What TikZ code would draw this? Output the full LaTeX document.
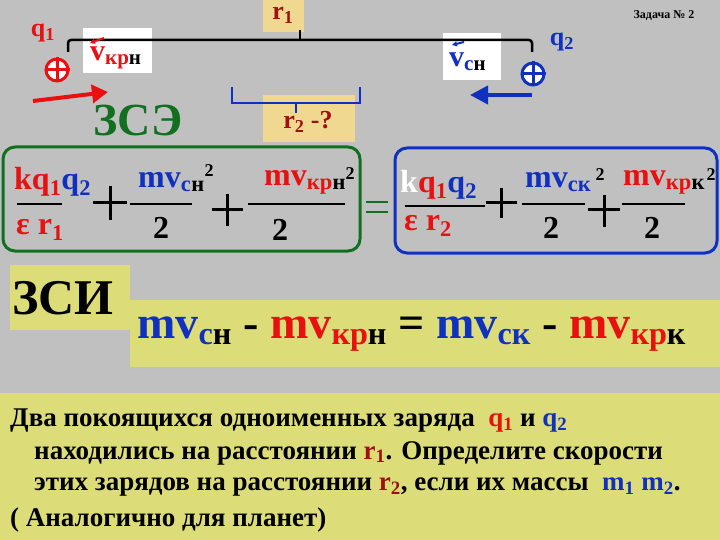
\documentclass[tikz,border=0pt]{standalone}
\usepackage{fontspec}
\usetikzlibrary{arrows.meta}
\setmainfont{Liberation Serif}
\definecolor{bg}{HTML}{C0C0C0}
\definecolor{yel}{HTML}{DCDC78}
\definecolor{ry}{HTML}{F0D890}
\definecolor{rd}{HTML}{E81010}
\definecolor{dr}{HTML}{A01010}
\definecolor{bl}{HTML}{1030C0}
\definecolor{gr}{HTML}{107020}
\newcommand{\fsz}[1]{\bfseries\fontsize{#1}{#1}\selectfont}
\begin{document}
\begin{tikzpicture}[x=1pt,y=-1pt,
  t/.style={inner sep=0pt},
  fr/.style={line width=2pt}]
\useasboundingbox (0,0) rectangle (720,540);
\fill[bg] (0,0) rectangle (720,540);
% yellow areas
\fill[ry] (263,0) rectangle (304,32);
\fill[ry] (263,95) rectangle (355,142);
\fill[yel] (10,265) rectangle (130,330);
\fill[yel] (130,300) rectangle (720,367);
\fill[yel] (0,393) rectangle (720,540);
\fill[white] (83,28) rectangle (152,73);
\fill[white] (443,33) rectangle (501,80);
% r1 line
\coordinate (a1) at (68,52); \coordinate (a2) at (532,52);
\draw[line width=2.5pt,rounded corners=3pt] (a1) |- (300,40) -| (a2);
\draw[line width=2pt] (300,30) -- (300,40);
\node[t,text=dr,font=\fsz{26}] (r1) at (283,15) {r\textsubscript{1}};
% r2 bracket
\draw[bl,line width=2.5pt] (232,87) |- (360,103) -- (360,87);
\draw[bl,line width=2pt] (296,103) -- (296,113);
\node[t,text=dr,font=\fsz{26}] (r2) at (308,122) {r\textsubscript{2} -?};
% charges
\node[t,text=rd,font=\fsz{26}] (q1) at (43,33) {q\textsubscript{1}};
\node[t,text=bl,font=\fsz{26}] (q2) at (562,42) {q\textsubscript{2}};
\node[circle,draw=rd,line width=3pt,fill=white,minimum size=22pt,inner sep=0pt] (c1) at (57,70) {};
\draw[rd,line width=3pt] (c1.north)--(c1.south) (c1.west)--(c1.east);
\node[circle,draw=bl,line width=3pt,fill=white,minimum size=22pt,inner sep=0pt] (c2) at (533,74) {};
\draw[bl,line width=3pt] (c2.north)--(c2.south) (c2.west)--(c2.east);
\coordinate (ra) at (33,101); \coordinate (rb) at (108,92);
\draw[rd,line width=4pt,-{Triangle[length=16pt,width=18pt]}] (ra) -- (rb);
\coordinate (ba) at (532,95); \coordinate (bb) at (470,95);
\draw[bl,line width=4pt,-{Triangle[length=18pt,width=18pt]}] (ba) -- (bb);
% velocity labels
\draw[rd,line width=2pt,-{Triangle[length=5pt,width=5pt]}] (104,38) -- (90,43);
\node[t,anchor=west,font=\fsz{30}] (vk) at (90,58) {\textcolor{rd}{v}\textsubscript{\textcolor{rd}{кр}н}};
\draw[bl,line width=2pt,-{Triangle[length=5pt,width=5pt]}] (464,42) -- (452,45);
\node[t,anchor=west,font=\fsz{30}] (vs) at (449,62) {\textcolor{bl}{v}\textsubscript{\textcolor{bl}{с}н}};
\node[t,font=\fsz{12}] (z) at (664,16) {Задача № 2};
\node[t,text=gr,font=\fsz{46}] (zse) at (138,120) {ЗСЭ};
% boxes
\draw[gr,line width=3pt,rounded corners=12pt] (3,147) rectangle (360,251);
\draw[bl,line width=3pt,rounded corners=12pt] (395,148) rectangle (717,253);
\draw[gr,line width=2.5pt] (366,202)--(388,202) (366,212)--(388,212);
% left
\node[t,anchor=west,font=\fsz{32}] (n1) at (14,182) {\textcolor{rd}{kq\textsubscript{1}}\textcolor{bl}{q\textsubscript{2}}};
\draw[fr] (17,204) -- (62,204);
\node[t,anchor=west,text=rd,font=\fsz{32}] (d1) at (16,230) {ε r\textsubscript{1}};
\draw[line width=3pt] (93,203)--(127,203) (110,186)--(110,220);
\node[t,anchor=west,font=\fsz{32}] (n2) at (138,182) {\textcolor{bl}{mv\textsubscript{с}}\textsubscript{н}};
\node[t,font=\fsz{18}] at (209,171) {2};
\draw[fr] (130,204) -- (192,204);
\node[t,font=\fsz{32}] (d2) at (161,228) {2};
\draw[line width=3pt] (212,210)--(243,210) (227,194)--(227,226);
\node[t,anchor=west,font=\fsz{32}] (n3) at (264,182) {\textcolor{rd}{mv\textsubscript{кр}}\textsubscript{н}};
\node[t,font=\fsz{18}] at (350,174) {2};
\draw[fr] (248,204) -- (345,204);
\node[t,font=\fsz{32}] (d3) at (280,230) {2};
% right
\node[t,anchor=west,font=\fsz{32}] (n4) at (400,185) {\textcolor{white}{k}\textcolor{rd}{q\textsubscript{1}}\textcolor{bl}{q\textsubscript{2}}};
\draw[fr] (405,206) -- (485,206);
\node[t,anchor=west,text=rd,font=\fsz{32}] (d4) at (404,226) {ε r\textsubscript{2}};
\draw[line width=3pt] (486,203)--(517,203) (501,188)--(501,218);
\node[t,anchor=west,font=\fsz{32}] (n5) at (525,182) {\textcolor{bl}{mv\textsubscript{ск}}};
\node[t,font=\fsz{18}] at (600,175) {2};
\draw[fr] (522,204) -- (585,204);
\node[t,font=\fsz{32}] (d5) at (551,228) {2};
\draw[line width=3pt] (588,210)--(620,210) (604,195)--(604,227);
\node[t,anchor=west,font=\fsz{32}] (n6) at (623,182) {\textcolor{rd}{mv\textsubscript{кр}}\textsubscript{к}};
\node[t,font=\fsz{18}] at (711,175) {2};
\draw[fr] (622,204) -- (685,204);
\node[t,font=\fsz{32}] (d6) at (652,228) {2};
\node[t,anchor=west,font=\fsz{50}] (zsi) at (12,298) {ЗСИ};
\node[t,anchor=west,font=\fsz{46}] (eq) at (137,334)
 {\textcolor{bl}{mv}\textsubscript{\textcolor{bl}{с}н} -
  \textcolor{rd}{mv}\textsubscript{\textcolor{rd}{кр}н} =
  \textcolor{bl}{mv}\textsubscript{\textcolor{bl}{ск}} -
  \textcolor{rd}{mv}\textsubscript{\textcolor{rd}{кр}к}};
\node[t,anchor=west,font=\fsz{27}] (l1) at (10,421) {Два покоящихся одноименных заряда \ \textcolor{rd}{q\textsubscript{1}} и \textcolor{bl}{q\textsubscript{2}}};
\node[t,anchor=west,font=\fsz{27}] (l2) at (34,453) {находились на расстоянии \textcolor{dr}{r\textsubscript{1}}. Определите скорости};
\node[t,anchor=west,font=\fsz{27}] (l3) at (34,487) {этих зарядов на расстоянии \textcolor{dr}{r\textsubscript{2}}, если их массы \ \textcolor{bl}{m\textsubscript{1} m\textsubscript{2}}.};
\node[t,anchor=west,font=\fsz{27}] (l4) at (10,520) {( Аналогично для планет)};
\end{tikzpicture}
\end{document}
